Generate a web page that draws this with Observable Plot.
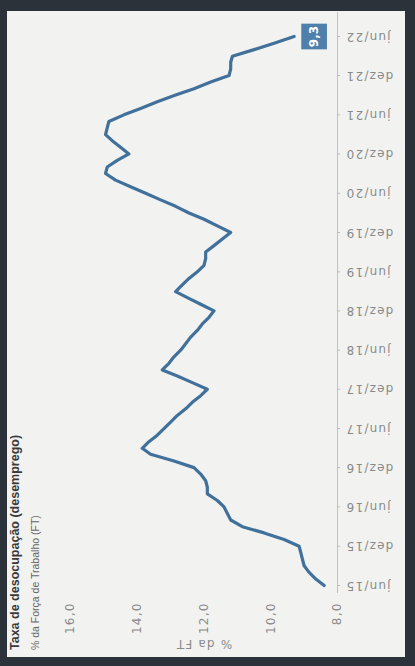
<!DOCTYPE html>
<html><head><meta charset="utf-8">
<script src="https://cdn.jsdelivr.net/npm/d3@7"></script>
<script src="https://cdn.jsdelivr.net/npm/@observablehq/plot@0.6"></script>
<style>
html,body{margin:0;padding:0;width:415px;height:666px;overflow:hidden;background:#2c323a;}
#rot{position:absolute;left:0;top:0;width:666px;height:415px;transform-origin:0 0;transform:translate(0,666px) rotate(-90deg);}
#paper{position:absolute;left:9px;top:7px;width:646px;height:398px;background:#f2f3f1;}
#title{position:absolute;left:16px;top:8px;font:bold 12.5px "Liberation Sans",Arial,sans-serif;color:#3a3a3a;white-space:nowrap;}
#sub{position:absolute;left:16px;top:29px;font:10.5px "Liberation Sans",Arial,sans-serif;color:#666;white-space:nowrap;}
#chart{position:absolute;left:0;top:0;}
</style></head><body>
<div id="rot">
  <div id="paper"></div>
  <div id="title">Taxa de desocupação (desemprego)</div>
  <div id="sub">% da Força de Trabalho (FT)</div>
  <div id="chart"></div>
</div>
<script>
// Monthly unemployment rate (% of labour force), jun/15 .. jun/22
const startMonth = "2015-06-01";
const rate = [
  8.4, 8.65, 8.85, 9.0, 9.05, 9.1, 9.15,
  9.6, 10.2, 10.85, 11.2, 11.3, 11.4, 11.6, 11.9, 11.9, 11.95, 12.1, 12.3,
  12.9, 13.6, 13.85, 13.65, 13.4, 13.2, 13.0, 12.8, 12.55, 12.35, 12.1, 11.9,
  12.35, 12.8, 13.25, 13.05, 12.9, 12.7, 12.55, 12.4, 12.2, 12.05, 11.85, 11.7,
  12.1, 12.5, 12.85, 12.65, 12.45, 12.2, 12.0, 11.95, 11.95, 11.7, 11.45, 11.2,
  11.6, 12.0, 12.45, 12.85, 13.3, 13.75, 14.2, 14.65, 14.95, 14.9, 14.6, 14.25,
  14.5, 14.75, 14.95, 14.9, 14.85, 14.4, 13.9, 13.4, 12.85, 12.3, 11.8, 11.25,
  11.2, 11.2, 11.15, 10.5, 9.9, 9.3
];
const tickLabels = ["jun/15","dez/15","jun/16","dez/16","jun/17","dez/17","jun/18","dez/18",
  "jun/19","dez/19","jun/20","dez/20","jun/21","dez/21","jun/22"];
const yTicks = [8, 10, 12, 14, 16];

const start = new Date(startMonth);
const data = rate.map((v, i) => ({date: d3.utcMonth.offset(start, i), v}));
const tickDates = tickLabels.map((_, i) => d3.utcMonth.offset(start, 6 * i));
const fmtX = d => tickLabels[tickDates.findIndex(t => +t === +d)];
const fmtNum = v => v.toFixed(1).replace(".", ",");
const last = data[data.length - 1];

const chart = Plot.plot({
  width: 666, height: 415,
  marginLeft: 80, marginRight: 37, marginTop: 70, marginBottom: 78,
  style: {background: "transparent", fontFamily: "'DejaVu Sans', sans-serif", fontSize: "12px", color: "#8a8a8a", letterSpacing: "1.2px"},
  x: {type: "utc", domain: [start, last.date]},
  y: {domain: [8, 16]},
  marks: [
    Plot.ruleY([8], {stroke: "#c2c2c2", insetLeft: -7, insetRight: -25}),
    Plot.axisX({ticks: tickDates, tickFormat: fmtX, tickRotate: -90, tickSize: 3, tickPadding: 5, label: null, stroke: "#bbb"}),
    Plot.axisY({ticks: yTicks, tickFormat: fmtNum, tickSize: 0, tickPadding: 17,
      label: "% da FT", labelAnchor: "center", labelOffset: 63, labelArrow: "none"}),
    Plot.line(data, {x: "date", y: "v", stroke: "#41709b", strokeWidth: 3.2, strokeLinejoin: "round", strokeLinecap: "round"}),
    Plot.dot([last], {x: "date", y: "v", symbol: "square", r: 14.5, fill: "#4e80ab", dy: 20}),
    Plot.text([last], {x: "date", y: "v", text: d => fmtNum(d.v), fill: "white", fontWeight: "bold", fontSize: 12, dy: 20})
  ]
});
chart.querySelectorAll('g[aria-label="text"] text').forEach(t => t.style.letterSpacing = "0");
document.getElementById("chart").appendChild(chart);
</script>
</body></html>
